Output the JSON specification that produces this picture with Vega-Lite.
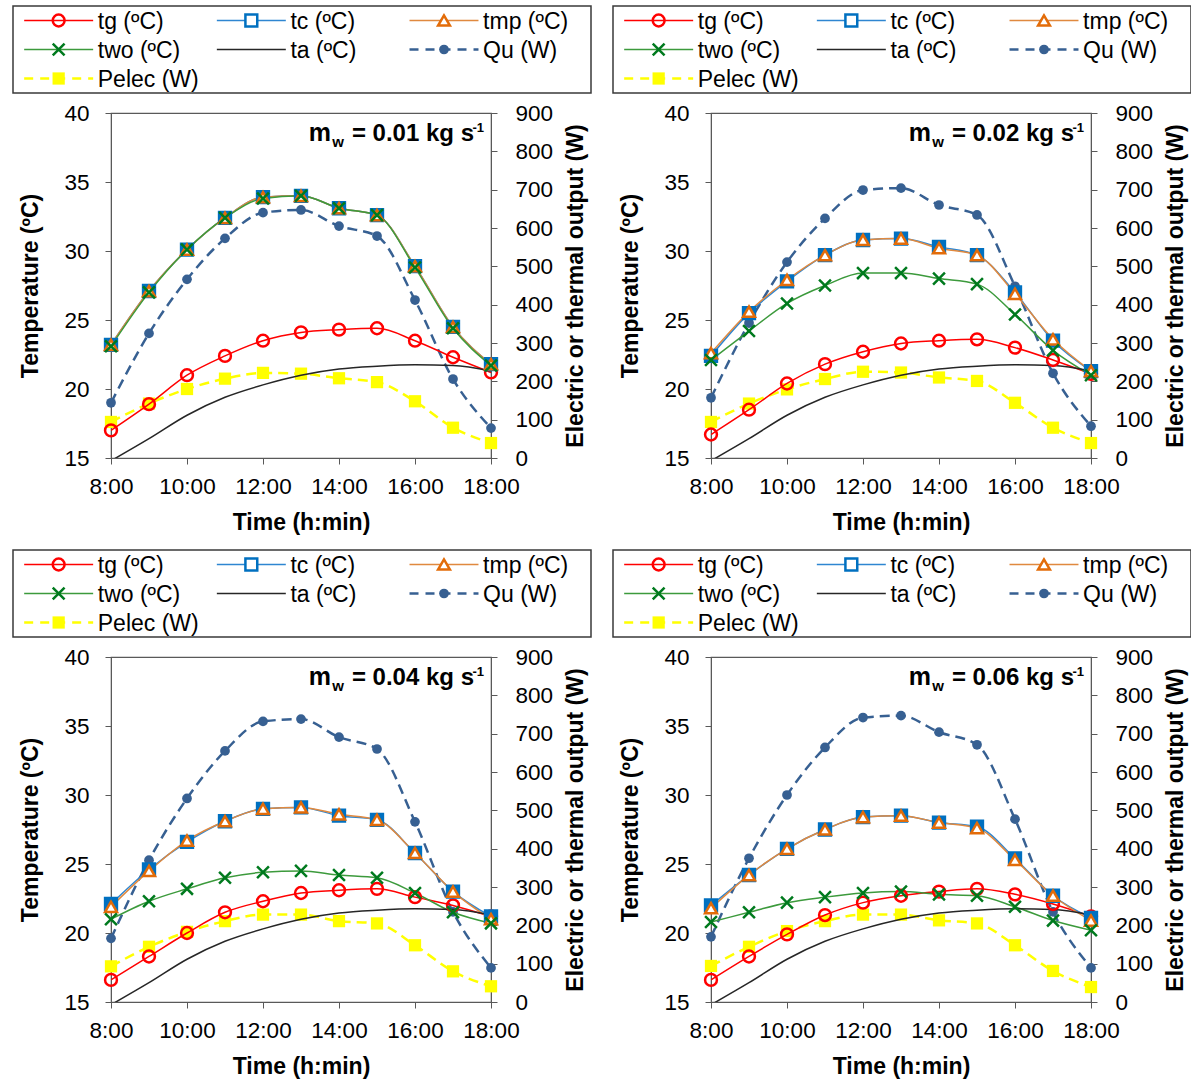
{
  "$schema": "https://vega.github.io/schema/vega-lite/v6.json",
  "background": "white",
  "padding": {"left": 12, "top": 5, "right": 0, "bottom": 0},
  "config": {
    "font": "Liberation Sans",
    "axis": {"labelFont": "Liberation Sans", "titleFont": "Liberation Sans", "labelFontSize": 22.5, "titleFontSize": 23, "titleFontWeight": "bold", "labelColor": "#000000", "titleColor": "#000000", "domainColor": "#595959", "tickColor": "#595959", "grid": false},
    "text": {"font": "Liberation Sans", "color": "#000000"}
  },
  "datasets": {
    "legend": [
      {"series": "tg", "label": "tg (ºC)"},
      {"series": "tc", "label": "tc (ºC)"},
      {"series": "tmp", "label": "tmp (ºC)"},
      {"series": "two", "label": "two (ºC)"},
      {"series": "ta", "label": "ta (ºC)"},
      {"series": "Qu", "label": "Qu (W)"},
      {"series": "Pelec", "label": "Pelec (W)"}
    ],
    "obs": [
      {"mw": "0.01", "series": "tg", "hour": 8, "value": 17.0},
      {"mw": "0.01", "series": "tg", "hour": 9, "value": 18.9},
      {"mw": "0.01", "series": "tg", "hour": 10, "value": 21.0},
      {"mw": "0.01", "series": "tg", "hour": 11, "value": 22.4},
      {"mw": "0.01", "series": "tg", "hour": 12, "value": 23.5},
      {"mw": "0.01", "series": "tg", "hour": 13, "value": 24.1},
      {"mw": "0.01", "series": "tg", "hour": 14, "value": 24.3},
      {"mw": "0.01", "series": "tg", "hour": 15, "value": 24.4},
      {"mw": "0.01", "series": "tg", "hour": 16, "value": 23.5},
      {"mw": "0.01", "series": "tg", "hour": 17, "value": 22.3},
      {"mw": "0.01", "series": "tg", "hour": 18, "value": 21.2},
      {"mw": "0.01", "series": "tc", "hour": 8, "value": 23.2},
      {"mw": "0.01", "series": "tc", "hour": 9, "value": 27.1},
      {"mw": "0.01", "series": "tc", "hour": 10, "value": 30.1},
      {"mw": "0.01", "series": "tc", "hour": 11, "value": 32.4},
      {"mw": "0.01", "series": "tc", "hour": 12, "value": 33.9},
      {"mw": "0.01", "series": "tc", "hour": 13, "value": 34.0},
      {"mw": "0.01", "series": "tc", "hour": 14, "value": 33.1},
      {"mw": "0.01", "series": "tc", "hour": 15, "value": 32.6},
      {"mw": "0.01", "series": "tc", "hour": 16, "value": 28.9},
      {"mw": "0.01", "series": "tc", "hour": 17, "value": 24.5},
      {"mw": "0.01", "series": "tc", "hour": 18, "value": 21.8},
      {"mw": "0.01", "series": "tmp", "hour": 8, "value": 23.2},
      {"mw": "0.01", "series": "tmp", "hour": 9, "value": 27.1},
      {"mw": "0.01", "series": "tmp", "hour": 10, "value": 30.1},
      {"mw": "0.01", "series": "tmp", "hour": 11, "value": 32.4},
      {"mw": "0.01", "series": "tmp", "hour": 12, "value": 33.9},
      {"mw": "0.01", "series": "tmp", "hour": 13, "value": 34.0},
      {"mw": "0.01", "series": "tmp", "hour": 14, "value": 33.1},
      {"mw": "0.01", "series": "tmp", "hour": 15, "value": 32.6},
      {"mw": "0.01", "series": "tmp", "hour": 16, "value": 28.9},
      {"mw": "0.01", "series": "tmp", "hour": 17, "value": 24.5},
      {"mw": "0.01", "series": "tmp", "hour": 18, "value": 21.8},
      {"mw": "0.01", "series": "two", "hour": 8, "value": 23.1},
      {"mw": "0.01", "series": "two", "hour": 9, "value": 27.0},
      {"mw": "0.01", "series": "two", "hour": 10, "value": 30.1},
      {"mw": "0.01", "series": "two", "hour": 11, "value": 32.4},
      {"mw": "0.01", "series": "two", "hour": 12, "value": 33.8},
      {"mw": "0.01", "series": "two", "hour": 13, "value": 34.0},
      {"mw": "0.01", "series": "two", "hour": 14, "value": 33.1},
      {"mw": "0.01", "series": "two", "hour": 15, "value": 32.6},
      {"mw": "0.01", "series": "two", "hour": 16, "value": 28.8},
      {"mw": "0.01", "series": "two", "hour": 17, "value": 24.4},
      {"mw": "0.01", "series": "two", "hour": 18, "value": 21.7},
      {"mw": "0.01", "series": "Qu", "hour": 8, "value": 144},
      {"mw": "0.01", "series": "Qu", "hour": 9, "value": 325},
      {"mw": "0.01", "series": "Qu", "hour": 10, "value": 466},
      {"mw": "0.01", "series": "Qu", "hour": 11, "value": 573},
      {"mw": "0.01", "series": "Qu", "hour": 12, "value": 640},
      {"mw": "0.01", "series": "Qu", "hour": 13, "value": 647},
      {"mw": "0.01", "series": "Qu", "hour": 14, "value": 605},
      {"mw": "0.01", "series": "Qu", "hour": 15, "value": 579},
      {"mw": "0.01", "series": "Qu", "hour": 16, "value": 412},
      {"mw": "0.01", "series": "Qu", "hour": 17, "value": 206},
      {"mw": "0.01", "series": "Qu", "hour": 18, "value": 78},
      {"mw": "0.01", "series": "Pelec", "hour": 8, "value": 94},
      {"mw": "0.01", "series": "Pelec", "hour": 9, "value": 142},
      {"mw": "0.01", "series": "Pelec", "hour": 10, "value": 180},
      {"mw": "0.01", "series": "Pelec", "hour": 11, "value": 207},
      {"mw": "0.01", "series": "Pelec", "hour": 12, "value": 222},
      {"mw": "0.01", "series": "Pelec", "hour": 13, "value": 220},
      {"mw": "0.01", "series": "Pelec", "hour": 14, "value": 208},
      {"mw": "0.01", "series": "Pelec", "hour": 15, "value": 198},
      {"mw": "0.01", "series": "Pelec", "hour": 16, "value": 148},
      {"mw": "0.01", "series": "Pelec", "hour": 17, "value": 79},
      {"mw": "0.01", "series": "Pelec", "hour": 18, "value": 39},
      {"mw": "0.02", "series": "tg", "hour": 8, "value": 16.7},
      {"mw": "0.02", "series": "tg", "hour": 9, "value": 18.5},
      {"mw": "0.02", "series": "tg", "hour": 10, "value": 20.4},
      {"mw": "0.02", "series": "tg", "hour": 11, "value": 21.8},
      {"mw": "0.02", "series": "tg", "hour": 12, "value": 22.7},
      {"mw": "0.02", "series": "tg", "hour": 13, "value": 23.3},
      {"mw": "0.02", "series": "tg", "hour": 14, "value": 23.5},
      {"mw": "0.02", "series": "tg", "hour": 15, "value": 23.6},
      {"mw": "0.02", "series": "tg", "hour": 16, "value": 23.0},
      {"mw": "0.02", "series": "tg", "hour": 17, "value": 22.1},
      {"mw": "0.02", "series": "tg", "hour": 18, "value": 21.1},
      {"mw": "0.02", "series": "tc", "hour": 8, "value": 22.4},
      {"mw": "0.02", "series": "tc", "hour": 9, "value": 25.5},
      {"mw": "0.02", "series": "tc", "hour": 10, "value": 27.8},
      {"mw": "0.02", "series": "tc", "hour": 11, "value": 29.7},
      {"mw": "0.02", "series": "tc", "hour": 12, "value": 30.8},
      {"mw": "0.02", "series": "tc", "hour": 13, "value": 30.9},
      {"mw": "0.02", "series": "tc", "hour": 14, "value": 30.3},
      {"mw": "0.02", "series": "tc", "hour": 15, "value": 29.7},
      {"mw": "0.02", "series": "tc", "hour": 16, "value": 27.0},
      {"mw": "0.02", "series": "tc", "hour": 17, "value": 23.5},
      {"mw": "0.02", "series": "tc", "hour": 18, "value": 21.3},
      {"mw": "0.02", "series": "tmp", "hour": 8, "value": 22.6},
      {"mw": "0.02", "series": "tmp", "hour": 9, "value": 25.6},
      {"mw": "0.02", "series": "tmp", "hour": 10, "value": 27.9},
      {"mw": "0.02", "series": "tmp", "hour": 11, "value": 29.7},
      {"mw": "0.02", "series": "tmp", "hour": 12, "value": 30.8},
      {"mw": "0.02", "series": "tmp", "hour": 13, "value": 30.9},
      {"mw": "0.02", "series": "tmp", "hour": 14, "value": 30.2},
      {"mw": "0.02", "series": "tmp", "hour": 15, "value": 29.7},
      {"mw": "0.02", "series": "tmp", "hour": 16, "value": 26.9},
      {"mw": "0.02", "series": "tmp", "hour": 17, "value": 23.6},
      {"mw": "0.02", "series": "tmp", "hour": 18, "value": 21.3},
      {"mw": "0.02", "series": "two", "hour": 8, "value": 22.1},
      {"mw": "0.02", "series": "two", "hour": 9, "value": 24.2},
      {"mw": "0.02", "series": "two", "hour": 10, "value": 26.2},
      {"mw": "0.02", "series": "two", "hour": 11, "value": 27.5},
      {"mw": "0.02", "series": "two", "hour": 12, "value": 28.4},
      {"mw": "0.02", "series": "two", "hour": 13, "value": 28.4},
      {"mw": "0.02", "series": "two", "hour": 14, "value": 28.0},
      {"mw": "0.02", "series": "two", "hour": 15, "value": 27.6},
      {"mw": "0.02", "series": "two", "hour": 16, "value": 25.4},
      {"mw": "0.02", "series": "two", "hour": 17, "value": 22.8},
      {"mw": "0.02", "series": "two", "hour": 18, "value": 21.0},
      {"mw": "0.02", "series": "Qu", "hour": 8, "value": 157},
      {"mw": "0.02", "series": "Qu", "hour": 9, "value": 352},
      {"mw": "0.02", "series": "Qu", "hour": 10, "value": 511},
      {"mw": "0.02", "series": "Qu", "hour": 11, "value": 625},
      {"mw": "0.02", "series": "Qu", "hour": 12, "value": 699},
      {"mw": "0.02", "series": "Qu", "hour": 13, "value": 704},
      {"mw": "0.02", "series": "Qu", "hour": 14, "value": 660},
      {"mw": "0.02", "series": "Qu", "hour": 15, "value": 634},
      {"mw": "0.02", "series": "Qu", "hour": 16, "value": 448},
      {"mw": "0.02", "series": "Qu", "hour": 17, "value": 221},
      {"mw": "0.02", "series": "Qu", "hour": 18, "value": 83},
      {"mw": "0.02", "series": "Pelec", "hour": 8, "value": 94},
      {"mw": "0.02", "series": "Pelec", "hour": 9, "value": 142},
      {"mw": "0.02", "series": "Pelec", "hour": 10, "value": 179},
      {"mw": "0.02", "series": "Pelec", "hour": 11, "value": 206},
      {"mw": "0.02", "series": "Pelec", "hour": 12, "value": 225},
      {"mw": "0.02", "series": "Pelec", "hour": 13, "value": 223},
      {"mw": "0.02", "series": "Pelec", "hour": 14, "value": 210},
      {"mw": "0.02", "series": "Pelec", "hour": 15, "value": 201},
      {"mw": "0.02", "series": "Pelec", "hour": 16, "value": 144},
      {"mw": "0.02", "series": "Pelec", "hour": 17, "value": 79},
      {"mw": "0.02", "series": "Pelec", "hour": 18, "value": 39},
      {"mw": "0.04", "series": "tg", "hour": 8, "value": 16.6},
      {"mw": "0.04", "series": "tg", "hour": 9, "value": 18.3},
      {"mw": "0.04", "series": "tg", "hour": 10, "value": 20.0},
      {"mw": "0.04", "series": "tg", "hour": 11, "value": 21.5},
      {"mw": "0.04", "series": "tg", "hour": 12, "value": 22.3},
      {"mw": "0.04", "series": "tg", "hour": 13, "value": 22.9},
      {"mw": "0.04", "series": "tg", "hour": 14, "value": 23.1},
      {"mw": "0.04", "series": "tg", "hour": 15, "value": 23.2},
      {"mw": "0.04", "series": "tg", "hour": 16, "value": 22.6},
      {"mw": "0.04", "series": "tg", "hour": 17, "value": 22.0},
      {"mw": "0.04", "series": "tg", "hour": 18, "value": 21.2},
      {"mw": "0.04", "series": "tc", "hour": 8, "value": 22.1},
      {"mw": "0.04", "series": "tc", "hour": 9, "value": 24.6},
      {"mw": "0.04", "series": "tc", "hour": 10, "value": 26.6},
      {"mw": "0.04", "series": "tc", "hour": 11, "value": 28.1},
      {"mw": "0.04", "series": "tc", "hour": 12, "value": 29.0},
      {"mw": "0.04", "series": "tc", "hour": 13, "value": 29.1},
      {"mw": "0.04", "series": "tc", "hour": 14, "value": 28.5},
      {"mw": "0.04", "series": "tc", "hour": 15, "value": 28.2},
      {"mw": "0.04", "series": "tc", "hour": 16, "value": 25.8},
      {"mw": "0.04", "series": "tc", "hour": 17, "value": 23.0},
      {"mw": "0.04", "series": "tc", "hour": 18, "value": 21.2},
      {"mw": "0.04", "series": "tmp", "hour": 8, "value": 21.9},
      {"mw": "0.04", "series": "tmp", "hour": 9, "value": 24.5},
      {"mw": "0.04", "series": "tmp", "hour": 10, "value": 26.7},
      {"mw": "0.04", "series": "tmp", "hour": 11, "value": 28.1},
      {"mw": "0.04", "series": "tmp", "hour": 12, "value": 29.0},
      {"mw": "0.04", "series": "tmp", "hour": 13, "value": 29.1},
      {"mw": "0.04", "series": "tmp", "hour": 14, "value": 28.6},
      {"mw": "0.04", "series": "tmp", "hour": 15, "value": 28.2},
      {"mw": "0.04", "series": "tmp", "hour": 16, "value": 25.8},
      {"mw": "0.04", "series": "tmp", "hour": 17, "value": 23.0},
      {"mw": "0.04", "series": "tmp", "hour": 18, "value": 21.0},
      {"mw": "0.04", "series": "two", "hour": 8, "value": 21.0},
      {"mw": "0.04", "series": "two", "hour": 9, "value": 22.3},
      {"mw": "0.04", "series": "two", "hour": 10, "value": 23.2},
      {"mw": "0.04", "series": "two", "hour": 11, "value": 24.0},
      {"mw": "0.04", "series": "two", "hour": 12, "value": 24.4},
      {"mw": "0.04", "series": "two", "hour": 13, "value": 24.5},
      {"mw": "0.04", "series": "two", "hour": 14, "value": 24.2},
      {"mw": "0.04", "series": "two", "hour": 15, "value": 24.0},
      {"mw": "0.04", "series": "two", "hour": 16, "value": 22.9},
      {"mw": "0.04", "series": "two", "hour": 17, "value": 21.5},
      {"mw": "0.04", "series": "two", "hour": 18, "value": 20.7},
      {"mw": "0.04", "series": "Qu", "hour": 8, "value": 166},
      {"mw": "0.04", "series": "Qu", "hour": 9, "value": 370},
      {"mw": "0.04", "series": "Qu", "hour": 10, "value": 531},
      {"mw": "0.04", "series": "Qu", "hour": 11, "value": 655},
      {"mw": "0.04", "series": "Qu", "hour": 12, "value": 732},
      {"mw": "0.04", "series": "Qu", "hour": 13, "value": 738},
      {"mw": "0.04", "series": "Qu", "hour": 14, "value": 691},
      {"mw": "0.04", "series": "Qu", "hour": 15, "value": 660},
      {"mw": "0.04", "series": "Qu", "hour": 16, "value": 470},
      {"mw": "0.04", "series": "Qu", "hour": 17, "value": 235},
      {"mw": "0.04", "series": "Qu", "hour": 18, "value": 89},
      {"mw": "0.04", "series": "Pelec", "hour": 8, "value": 93},
      {"mw": "0.04", "series": "Pelec", "hour": 9, "value": 144},
      {"mw": "0.04", "series": "Pelec", "hour": 10, "value": 183},
      {"mw": "0.04", "series": "Pelec", "hour": 11, "value": 211},
      {"mw": "0.04", "series": "Pelec", "hour": 12, "value": 228},
      {"mw": "0.04", "series": "Pelec", "hour": 13, "value": 228},
      {"mw": "0.04", "series": "Pelec", "hour": 14, "value": 211},
      {"mw": "0.04", "series": "Pelec", "hour": 15, "value": 205},
      {"mw": "0.04", "series": "Pelec", "hour": 16, "value": 148},
      {"mw": "0.04", "series": "Pelec", "hour": 17, "value": 80},
      {"mw": "0.04", "series": "Pelec", "hour": 18, "value": 41},
      {"mw": "0.06", "series": "tg", "hour": 8, "value": 16.6},
      {"mw": "0.06", "series": "tg", "hour": 9, "value": 18.3},
      {"mw": "0.06", "series": "tg", "hour": 10, "value": 19.9},
      {"mw": "0.06", "series": "tg", "hour": 11, "value": 21.3},
      {"mw": "0.06", "series": "tg", "hour": 12, "value": 22.2},
      {"mw": "0.06", "series": "tg", "hour": 13, "value": 22.7},
      {"mw": "0.06", "series": "tg", "hour": 14, "value": 23.0},
      {"mw": "0.06", "series": "tg", "hour": 15, "value": 23.2},
      {"mw": "0.06", "series": "tg", "hour": 16, "value": 22.8},
      {"mw": "0.06", "series": "tg", "hour": 17, "value": 22.1},
      {"mw": "0.06", "series": "tg", "hour": 18, "value": 21.2},
      {"mw": "0.06", "series": "tc", "hour": 8, "value": 22.0},
      {"mw": "0.06", "series": "tc", "hour": 9, "value": 24.2},
      {"mw": "0.06", "series": "tc", "hour": 10, "value": 26.1},
      {"mw": "0.06", "series": "tc", "hour": 11, "value": 27.5},
      {"mw": "0.06", "series": "tc", "hour": 12, "value": 28.4},
      {"mw": "0.06", "series": "tc", "hour": 13, "value": 28.5},
      {"mw": "0.06", "series": "tc", "hour": 14, "value": 28.0},
      {"mw": "0.06", "series": "tc", "hour": 15, "value": 27.7},
      {"mw": "0.06", "series": "tc", "hour": 16, "value": 25.4},
      {"mw": "0.06", "series": "tc", "hour": 17, "value": 22.7},
      {"mw": "0.06", "series": "tc", "hour": 18, "value": 21.1},
      {"mw": "0.06", "series": "tmp", "hour": 8, "value": 21.8},
      {"mw": "0.06", "series": "tmp", "hour": 9, "value": 24.2},
      {"mw": "0.06", "series": "tmp", "hour": 10, "value": 26.1},
      {"mw": "0.06", "series": "tmp", "hour": 11, "value": 27.5},
      {"mw": "0.06", "series": "tmp", "hour": 12, "value": 28.4},
      {"mw": "0.06", "series": "tmp", "hour": 13, "value": 28.5},
      {"mw": "0.06", "series": "tmp", "hour": 14, "value": 28.0},
      {"mw": "0.06", "series": "tmp", "hour": 15, "value": 27.6},
      {"mw": "0.06", "series": "tmp", "hour": 16, "value": 25.3},
      {"mw": "0.06", "series": "tmp", "hour": 17, "value": 22.7},
      {"mw": "0.06", "series": "tmp", "hour": 18, "value": 20.9},
      {"mw": "0.06", "series": "two", "hour": 8, "value": 20.8},
      {"mw": "0.06", "series": "two", "hour": 9, "value": 21.5},
      {"mw": "0.06", "series": "two", "hour": 10, "value": 22.2},
      {"mw": "0.06", "series": "two", "hour": 11, "value": 22.6},
      {"mw": "0.06", "series": "two", "hour": 12, "value": 22.9},
      {"mw": "0.06", "series": "two", "hour": 13, "value": 23.0},
      {"mw": "0.06", "series": "two", "hour": 14, "value": 22.8},
      {"mw": "0.06", "series": "two", "hour": 15, "value": 22.7},
      {"mw": "0.06", "series": "two", "hour": 16, "value": 21.9},
      {"mw": "0.06", "series": "two", "hour": 17, "value": 20.9},
      {"mw": "0.06", "series": "two", "hour": 18, "value": 20.2},
      {"mw": "0.06", "series": "Qu", "hour": 8, "value": 170},
      {"mw": "0.06", "series": "Qu", "hour": 9, "value": 375},
      {"mw": "0.06", "series": "Qu", "hour": 10, "value": 540},
      {"mw": "0.06", "series": "Qu", "hour": 11, "value": 664},
      {"mw": "0.06", "series": "Qu", "hour": 12, "value": 742},
      {"mw": "0.06", "series": "Qu", "hour": 13, "value": 747},
      {"mw": "0.06", "series": "Qu", "hour": 14, "value": 704},
      {"mw": "0.06", "series": "Qu", "hour": 15, "value": 671},
      {"mw": "0.06", "series": "Qu", "hour": 16, "value": 477},
      {"mw": "0.06", "series": "Qu", "hour": 17, "value": 235},
      {"mw": "0.06", "series": "Qu", "hour": 18, "value": 89},
      {"mw": "0.06", "series": "Pelec", "hour": 8, "value": 94},
      {"mw": "0.06", "series": "Pelec", "hour": 9, "value": 144},
      {"mw": "0.06", "series": "Pelec", "hour": 10, "value": 185},
      {"mw": "0.06", "series": "Pelec", "hour": 11, "value": 211},
      {"mw": "0.06", "series": "Pelec", "hour": 12, "value": 228},
      {"mw": "0.06", "series": "Pelec", "hour": 13, "value": 228},
      {"mw": "0.06", "series": "Pelec", "hour": 14, "value": 213},
      {"mw": "0.06", "series": "Pelec", "hour": 15, "value": 205},
      {"mw": "0.06", "series": "Pelec", "hour": 16, "value": 148},
      {"mw": "0.06", "series": "Pelec", "hour": 17, "value": 81},
      {"mw": "0.06", "series": "Pelec", "hour": 18, "value": 39},
      {"mw": "all", "series": "ta", "hour": 8, "value": 14.8},
      {"mw": "all", "series": "ta", "hour": 9, "value": 16.4},
      {"mw": "all", "series": "ta", "hour": 10, "value": 18.1},
      {"mw": "all", "series": "ta", "hour": 11, "value": 19.4},
      {"mw": "all", "series": "ta", "hour": 12, "value": 20.3},
      {"mw": "all", "series": "ta", "hour": 13, "value": 21.0},
      {"mw": "all", "series": "ta", "hour": 14, "value": 21.45},
      {"mw": "all", "series": "ta", "hour": 15, "value": 21.65},
      {"mw": "all", "series": "ta", "hour": 16, "value": 21.75},
      {"mw": "all", "series": "ta", "hour": 17, "value": 21.7},
      {"mw": "all", "series": "ta", "hour": 18, "value": 21.3}
    ]
  },
  "spacing": 13,
  "vconcat": [
    {
      "spacing": 20,
      "hconcat": [
        {
          "spacing": 7,
          "vconcat": [
            {
              "width": 578, "height": 87,
              "view": {"stroke": "#3A3A3A", "strokeWidth": 1.5},
              "data": {"name": "legend"},
              "transform": [
                {"window": [{"op": "row_number", "as": "rn"}]},
                {"calculate": "(datum.rn - 1) % 3", "as": "col"},
                {"calculate": "floor((datum.rn - 1) / 3)", "as": "row"},
                {"calculate": "datum.col + 0.058", "as": "x0"},
                {"calculate": "datum.col + 0.416", "as": "x1"},
                {"calculate": "datum.col + 0.237", "as": "xm"},
                {"calculate": "datum.col + 0.44", "as": "xt"}
              ],
              "encoding": {"y": {"field": "row", "type": "ordinal", "scale": {"type": "point", "padding": 0.5}, "axis": null}},
              "layer": [
                {"transform": [{"filter": "datum.series != 'Qu' && datum.series != 'Pelec'"}], "mark": {"type": "rule", "strokeWidth": 1.5}, "encoding": {"x": {"field": "x0", "type": "quantitative", "scale": {"domain": [0, 3], "nice": false, "zero": false}, "axis": null}, "x2": {"field": "x1"}, "color": {"field": "series", "type": "nominal", "scale": {"domain": ["tg", "tc", "tmp", "two", "ta", "Qu", "Pelec"], "range": ["#FF0000", "#2E86D1", "#E0893F", "#3C9A3C", "#262626", "#376092", "#FFFF00"]}, "legend": null}}},
                {"transform": [{"filter": "datum.series == 'Qu' || datum.series == 'Pelec'"}], "mark": {"type": "rule", "strokeWidth": 2.5, "strokeDash": [9, 7]}, "encoding": {"x": {"field": "x0", "type": "quantitative", "scale": {"domain": [0, 3], "nice": false, "zero": false}, "axis": null}, "x2": {"field": "x1"}, "color": {"field": "series", "type": "nominal", "scale": {"domain": ["tg", "tc", "tmp", "two", "ta", "Qu", "Pelec"], "range": ["#FF0000", "#2E86D1", "#E0893F", "#3C9A3C", "#262626", "#376092", "#FFFF00"]}, "legend": null}}},
                {"transform": [{"filter": "datum.series != 'Qu' && datum.series != 'Pelec' && datum.series != 'ta'"}], "mark": {"type": "point", "size": 140, "strokeWidth": 2.5, "opacity": 1}, "encoding": {"x": {"field": "xm", "type": "quantitative", "scale": {"domain": [0, 3], "nice": false, "zero": false}, "axis": null}, "shape": {"field": "series", "type": "nominal", "scale": {"domain": ["tg", "tc", "tmp", "two", "ta", "Qu", "Pelec"], "range": ["circle", "square", "triangle-up", "M-1,-1L1,1M1,-1L-1,1", "circle", "circle", "square"]}, "legend": null}, "stroke": {"field": "series", "type": "nominal", "scale": {"domain": ["tg", "tc", "tmp", "two", "ta", "Qu", "Pelec"], "range": ["#FF0000", "#0070C0", "#E36C09", "#007A1E", "#000000", "#376092", "#FFFF00"]}, "legend": null}, "fill": {"condition": {"test": "datum.series == 'tc' || datum.series == 'tmp'", "value": "#FFFFFF"}, "field": "series", "type": "nominal", "scale": {"domain": ["tg", "tc", "tmp", "two", "ta", "Qu", "Pelec"], "range": ["transparent", "#0070C0", "#FFFFFF", "transparent", "transparent", "#376092", "#FFFF00"]}, "legend": null}}},
                {"transform": [{"filter": "datum.series == 'Qu'"}], "mark": {"type": "point", "shape": "circle", "size": 95, "strokeWidth": 1, "opacity": 1, "filled": true, "color": "#376092"}, "encoding": {"x": {"field": "xm", "type": "quantitative", "scale": {"domain": [0, 3], "nice": false, "zero": false}, "axis": null}}},
                {"transform": [{"filter": "datum.series == 'Pelec'"}], "mark": {"type": "point", "shape": "square", "size": 150, "strokeWidth": 1, "opacity": 1, "filled": true, "color": "#FFFF00"}, "encoding": {"x": {"field": "xm", "type": "quantitative", "scale": {"domain": [0, 3], "nice": false, "zero": false}, "axis": null}}},
                {"mark": {"type": "text", "align": "left", "baseline": "middle", "fontSize": 23, "dy": 1}, "encoding": {"x": {"field": "xt", "type": "quantitative", "scale": {"domain": [0, 3], "nice": false, "zero": false}, "axis": null}, "text": {"field": "label"}}}
              ]
            },
            {
              "spacing": 5,
              "hconcat": [
                {"width": 1, "height": 1, "view": {"stroke": null}, "data": {"values": []}, "mark": "point"},
                {
                  "width": 380, "height": 345,
                  "view": {"stroke": "#595959", "strokeWidth": 1.2},
                  "encoding": {"x": {"field": "hour", "type": "quantitative", "scale": {"domain": [8, 18], "nice": false, "zero": false}, "axis": {"title": "Time (h:min)", "values": [8, 10, 12, 14, 16, 18], "labelExpr": "datum.value + ':00'", "labelFlush": false, "labelOverlap": false, "tickSize": 6, "labelPadding": 11, "titlePadding": 14}}},
                  "layer": [
                    {
                      "encoding": {"y": {"field": "value", "type": "quantitative", "scale": {"domain": [0, 900], "nice": false, "zero": false}, "axis": {"orient": "right", "title": "Electric or thermal output (W)", "values": [0, 100, 200, 300, 400, 500, 600, 700, 800, 900], "labelFlush": false, "labelOverlap": false, "tickSize": 6, "labelPadding": 18, "titlePadding": 12, "titleAngle": 270, "titleBaseline": "top"}}},
                      "layer": [
                        {"data": {"name": "obs"}, "transform": [{"filter": "datum.mw == '0.01' && (datum.series == 'Qu' || datum.series == 'Pelec')"}], "mark": {"type": "line", "interpolate": "monotone", "strokeWidth": 2.5, "strokeDash": [10, 6]}, "encoding": {"color": {"field": "series", "type": "nominal", "scale": {"domain": ["tg", "tc", "tmp", "two", "ta", "Qu", "Pelec"], "range": ["#FF0000", "#2E86D1", "#E0893F", "#3C9A3C", "#262626", "#376092", "#FFFF00"]}, "legend": null}}},
                        {"data": {"name": "obs"}, "transform": [{"filter": "datum.mw == '0.01' && datum.series == 'Qu'"}], "mark": {"type": "point", "shape": "circle", "size": 95, "strokeWidth": 1, "opacity": 1, "filled": true, "color": "#376092"}},
                        {"data": {"name": "obs"}, "transform": [{"filter": "datum.mw == '0.01' && datum.series == 'Pelec'"}], "mark": {"type": "point", "shape": "square", "size": 150, "strokeWidth": 1, "opacity": 1, "filled": true, "color": "#FFFF00"}}
                      ]
                    },
                    {
                      "encoding": {"y": {"field": "value", "type": "quantitative", "scale": {"domain": [15, 40], "nice": false, "zero": false}, "axis": {"orient": "left", "title": "Temperature (ºC)", "values": [15, 20, 25, 30, 35, 40], "labelFlush": false, "labelOverlap": false, "tickSize": 6, "labelPadding": 16, "titlePadding": 21}}},
                      "layer": [
                        {"data": {"name": "obs"}, "transform": [{"filter": "(datum.mw == '0.01' || datum.mw == 'all') && datum.series != 'Qu' && datum.series != 'Pelec'"}], "mark": {"type": "line", "interpolate": "monotone", "strokeWidth": 1.5, "clip": true}, "encoding": {"color": {"field": "series", "type": "nominal", "scale": {"domain": ["tg", "tc", "tmp", "two", "ta", "Qu", "Pelec"], "range": ["#FF0000", "#2E86D1", "#E0893F", "#3C9A3C", "#262626", "#376092", "#FFFF00"]}, "legend": null}}},
                        {"data": {"name": "obs"}, "transform": [{"filter": "datum.mw == '0.01' && datum.series != 'Qu' && datum.series != 'Pelec'"}], "mark": {"type": "point", "size": 140, "strokeWidth": 2.5, "opacity": 1}, "encoding": {"shape": {"field": "series", "type": "nominal", "scale": {"domain": ["tg", "tc", "tmp", "two", "ta", "Qu", "Pelec"], "range": ["circle", "square", "triangle-up", "M-1,-1L1,1M1,-1L-1,1", "circle", "circle", "square"]}, "legend": null}, "stroke": {"field": "series", "type": "nominal", "scale": {"domain": ["tg", "tc", "tmp", "two", "ta", "Qu", "Pelec"], "range": ["#FF0000", "#0070C0", "#E36C09", "#007A1E", "#000000", "#376092", "#FFFF00"]}, "legend": null}, "fill": {"field": "series", "type": "nominal", "scale": {"domain": ["tg", "tc", "tmp", "two", "ta", "Qu", "Pelec"], "range": ["transparent", "#0070C0", "#FFFFFF", "transparent", "transparent", "#376092", "#FFFF00"]}, "legend": null}}},
                        {"data": {"name": "obs"}, "transform": [{"filter": "datum.mw == '0.01' && datum.series == 'tg' && datum.hour == 18"}], "mark": {"type": "text", "text": "m", "align": "right", "baseline": "alphabetic", "fontSize": 25, "fontWeight": "bold", "dx": -160, "color": "#000000"}, "encoding": {"x": {"field": "hour", "type": "quantitative"}, "y": {"datum": 38, "type": "quantitative"}}},
                        {"data": {"name": "obs"}, "transform": [{"filter": "datum.mw == '0.01' && datum.series == 'tg' && datum.hour == 18"}], "mark": {"type": "text", "text": "w", "align": "right", "baseline": "alphabetic", "fontSize": 15, "fontWeight": "bold", "dx": -147, "dy": 6, "color": "#000000"}, "encoding": {"x": {"field": "hour", "type": "quantitative"}, "y": {"datum": 38, "type": "quantitative"}}},
                        {"data": {"name": "obs"}, "transform": [{"filter": "datum.mw == '0.01' && datum.series == 'tg' && datum.hour == 18"}, {"calculate": "'= ' + datum.mw + ' kg s'", "as": "note"}], "mark": {"type": "text", "align": "right", "baseline": "alphabetic", "fontSize": 24, "fontWeight": "bold", "dx": -17, "color": "#000000"}, "encoding": {"x": {"field": "hour", "type": "quantitative"}, "y": {"datum": 38, "type": "quantitative"}, "text": {"field": "note"}}},
                        {"data": {"name": "obs"}, "transform": [{"filter": "datum.mw == '0.01' && datum.series == 'tg' && datum.hour == 18"}], "mark": {"type": "text", "text": "-1", "align": "right", "baseline": "alphabetic", "fontSize": 13, "fontWeight": "bold", "dx": -7, "dy": -9, "color": "#000000"}, "encoding": {"x": {"field": "hour", "type": "quantitative"}, "y": {"datum": 38, "type": "quantitative"}}}
                      ]
                    }
                  ],
                  "resolve": {"scale": {"y": "independent"}}
                }
              ]
            }
          ]
        },
        {
          "spacing": 7,
          "vconcat": [
            {
              "width": 578, "height": 87,
              "view": {"stroke": "#3A3A3A", "strokeWidth": 1.5},
              "data": {"name": "legend"},
              "transform": [
                {"window": [{"op": "row_number", "as": "rn"}]},
                {"calculate": "(datum.rn - 1) % 3", "as": "col"},
                {"calculate": "floor((datum.rn - 1) / 3)", "as": "row"},
                {"calculate": "datum.col + 0.058", "as": "x0"},
                {"calculate": "datum.col + 0.416", "as": "x1"},
                {"calculate": "datum.col + 0.237", "as": "xm"},
                {"calculate": "datum.col + 0.44", "as": "xt"}
              ],
              "encoding": {"y": {"field": "row", "type": "ordinal", "scale": {"type": "point", "padding": 0.5}, "axis": null}},
              "layer": [
                {"transform": [{"filter": "datum.series != 'Qu' && datum.series != 'Pelec'"}], "mark": {"type": "rule", "strokeWidth": 1.5}, "encoding": {"x": {"field": "x0", "type": "quantitative", "scale": {"domain": [0, 3], "nice": false, "zero": false}, "axis": null}, "x2": {"field": "x1"}, "color": {"field": "series", "type": "nominal", "scale": {"domain": ["tg", "tc", "tmp", "two", "ta", "Qu", "Pelec"], "range": ["#FF0000", "#2E86D1", "#E0893F", "#3C9A3C", "#262626", "#376092", "#FFFF00"]}, "legend": null}}},
                {"transform": [{"filter": "datum.series == 'Qu' || datum.series == 'Pelec'"}], "mark": {"type": "rule", "strokeWidth": 2.5, "strokeDash": [9, 7]}, "encoding": {"x": {"field": "x0", "type": "quantitative", "scale": {"domain": [0, 3], "nice": false, "zero": false}, "axis": null}, "x2": {"field": "x1"}, "color": {"field": "series", "type": "nominal", "scale": {"domain": ["tg", "tc", "tmp", "two", "ta", "Qu", "Pelec"], "range": ["#FF0000", "#2E86D1", "#E0893F", "#3C9A3C", "#262626", "#376092", "#FFFF00"]}, "legend": null}}},
                {"transform": [{"filter": "datum.series != 'Qu' && datum.series != 'Pelec' && datum.series != 'ta'"}], "mark": {"type": "point", "size": 140, "strokeWidth": 2.5, "opacity": 1}, "encoding": {"x": {"field": "xm", "type": "quantitative", "scale": {"domain": [0, 3], "nice": false, "zero": false}, "axis": null}, "shape": {"field": "series", "type": "nominal", "scale": {"domain": ["tg", "tc", "tmp", "two", "ta", "Qu", "Pelec"], "range": ["circle", "square", "triangle-up", "M-1,-1L1,1M1,-1L-1,1", "circle", "circle", "square"]}, "legend": null}, "stroke": {"field": "series", "type": "nominal", "scale": {"domain": ["tg", "tc", "tmp", "two", "ta", "Qu", "Pelec"], "range": ["#FF0000", "#0070C0", "#E36C09", "#007A1E", "#000000", "#376092", "#FFFF00"]}, "legend": null}, "fill": {"condition": {"test": "datum.series == 'tc' || datum.series == 'tmp'", "value": "#FFFFFF"}, "field": "series", "type": "nominal", "scale": {"domain": ["tg", "tc", "tmp", "two", "ta", "Qu", "Pelec"], "range": ["transparent", "#0070C0", "#FFFFFF", "transparent", "transparent", "#376092", "#FFFF00"]}, "legend": null}}},
                {"transform": [{"filter": "datum.series == 'Qu'"}], "mark": {"type": "point", "shape": "circle", "size": 95, "strokeWidth": 1, "opacity": 1, "filled": true, "color": "#376092"}, "encoding": {"x": {"field": "xm", "type": "quantitative", "scale": {"domain": [0, 3], "nice": false, "zero": false}, "axis": null}}},
                {"transform": [{"filter": "datum.series == 'Pelec'"}], "mark": {"type": "point", "shape": "square", "size": 150, "strokeWidth": 1, "opacity": 1, "filled": true, "color": "#FFFF00"}, "encoding": {"x": {"field": "xm", "type": "quantitative", "scale": {"domain": [0, 3], "nice": false, "zero": false}, "axis": null}}},
                {"mark": {"type": "text", "align": "left", "baseline": "middle", "fontSize": 23, "dy": 1}, "encoding": {"x": {"field": "xt", "type": "quantitative", "scale": {"domain": [0, 3], "nice": false, "zero": false}, "axis": null}, "text": {"field": "label"}}}
              ]
            },
            {
              "spacing": 5,
              "hconcat": [
                {"width": 1, "height": 1, "view": {"stroke": null}, "data": {"values": []}, "mark": "point"},
                {
                  "width": 380, "height": 345,
                  "view": {"stroke": "#595959", "strokeWidth": 1.2},
                  "encoding": {"x": {"field": "hour", "type": "quantitative", "scale": {"domain": [8, 18], "nice": false, "zero": false}, "axis": {"title": "Time (h:min)", "values": [8, 10, 12, 14, 16, 18], "labelExpr": "datum.value + ':00'", "labelFlush": false, "labelOverlap": false, "tickSize": 6, "labelPadding": 11, "titlePadding": 14}}},
                  "layer": [
                    {
                      "encoding": {"y": {"field": "value", "type": "quantitative", "scale": {"domain": [0, 900], "nice": false, "zero": false}, "axis": {"orient": "right", "title": "Electric or thermal output (W)", "values": [0, 100, 200, 300, 400, 500, 600, 700, 800, 900], "labelFlush": false, "labelOverlap": false, "tickSize": 6, "labelPadding": 18, "titlePadding": 12, "titleAngle": 270, "titleBaseline": "top"}}},
                      "layer": [
                        {"data": {"name": "obs"}, "transform": [{"filter": "datum.mw == '0.02' && (datum.series == 'Qu' || datum.series == 'Pelec')"}], "mark": {"type": "line", "interpolate": "monotone", "strokeWidth": 2.5, "strokeDash": [10, 6]}, "encoding": {"color": {"field": "series", "type": "nominal", "scale": {"domain": ["tg", "tc", "tmp", "two", "ta", "Qu", "Pelec"], "range": ["#FF0000", "#2E86D1", "#E0893F", "#3C9A3C", "#262626", "#376092", "#FFFF00"]}, "legend": null}}},
                        {"data": {"name": "obs"}, "transform": [{"filter": "datum.mw == '0.02' && datum.series == 'Qu'"}], "mark": {"type": "point", "shape": "circle", "size": 95, "strokeWidth": 1, "opacity": 1, "filled": true, "color": "#376092"}},
                        {"data": {"name": "obs"}, "transform": [{"filter": "datum.mw == '0.02' && datum.series == 'Pelec'"}], "mark": {"type": "point", "shape": "square", "size": 150, "strokeWidth": 1, "opacity": 1, "filled": true, "color": "#FFFF00"}}
                      ]
                    },
                    {
                      "encoding": {"y": {"field": "value", "type": "quantitative", "scale": {"domain": [15, 40], "nice": false, "zero": false}, "axis": {"orient": "left", "title": "Temperature (ºC)", "values": [15, 20, 25, 30, 35, 40], "labelFlush": false, "labelOverlap": false, "tickSize": 6, "labelPadding": 16, "titlePadding": 21}}},
                      "layer": [
                        {"data": {"name": "obs"}, "transform": [{"filter": "(datum.mw == '0.02' || datum.mw == 'all') && datum.series != 'Qu' && datum.series != 'Pelec'"}], "mark": {"type": "line", "interpolate": "monotone", "strokeWidth": 1.5, "clip": true}, "encoding": {"color": {"field": "series", "type": "nominal", "scale": {"domain": ["tg", "tc", "tmp", "two", "ta", "Qu", "Pelec"], "range": ["#FF0000", "#2E86D1", "#E0893F", "#3C9A3C", "#262626", "#376092", "#FFFF00"]}, "legend": null}}},
                        {"data": {"name": "obs"}, "transform": [{"filter": "datum.mw == '0.02' && datum.series != 'Qu' && datum.series != 'Pelec'"}], "mark": {"type": "point", "size": 140, "strokeWidth": 2.5, "opacity": 1}, "encoding": {"shape": {"field": "series", "type": "nominal", "scale": {"domain": ["tg", "tc", "tmp", "two", "ta", "Qu", "Pelec"], "range": ["circle", "square", "triangle-up", "M-1,-1L1,1M1,-1L-1,1", "circle", "circle", "square"]}, "legend": null}, "stroke": {"field": "series", "type": "nominal", "scale": {"domain": ["tg", "tc", "tmp", "two", "ta", "Qu", "Pelec"], "range": ["#FF0000", "#0070C0", "#E36C09", "#007A1E", "#000000", "#376092", "#FFFF00"]}, "legend": null}, "fill": {"field": "series", "type": "nominal", "scale": {"domain": ["tg", "tc", "tmp", "two", "ta", "Qu", "Pelec"], "range": ["transparent", "#0070C0", "#FFFFFF", "transparent", "transparent", "#376092", "#FFFF00"]}, "legend": null}}},
                        {"data": {"name": "obs"}, "transform": [{"filter": "datum.mw == '0.02' && datum.series == 'tg' && datum.hour == 18"}], "mark": {"type": "text", "text": "m", "align": "right", "baseline": "alphabetic", "fontSize": 25, "fontWeight": "bold", "dx": -160, "color": "#000000"}, "encoding": {"x": {"field": "hour", "type": "quantitative"}, "y": {"datum": 38, "type": "quantitative"}}},
                        {"data": {"name": "obs"}, "transform": [{"filter": "datum.mw == '0.02' && datum.series == 'tg' && datum.hour == 18"}], "mark": {"type": "text", "text": "w", "align": "right", "baseline": "alphabetic", "fontSize": 15, "fontWeight": "bold", "dx": -147, "dy": 6, "color": "#000000"}, "encoding": {"x": {"field": "hour", "type": "quantitative"}, "y": {"datum": 38, "type": "quantitative"}}},
                        {"data": {"name": "obs"}, "transform": [{"filter": "datum.mw == '0.02' && datum.series == 'tg' && datum.hour == 18"}, {"calculate": "'= ' + datum.mw + ' kg s'", "as": "note"}], "mark": {"type": "text", "align": "right", "baseline": "alphabetic", "fontSize": 24, "fontWeight": "bold", "dx": -17, "color": "#000000"}, "encoding": {"x": {"field": "hour", "type": "quantitative"}, "y": {"datum": 38, "type": "quantitative"}, "text": {"field": "note"}}},
                        {"data": {"name": "obs"}, "transform": [{"filter": "datum.mw == '0.02' && datum.series == 'tg' && datum.hour == 18"}], "mark": {"type": "text", "text": "-1", "align": "right", "baseline": "alphabetic", "fontSize": 13, "fontWeight": "bold", "dx": -7, "dy": -9, "color": "#000000"}, "encoding": {"x": {"field": "hour", "type": "quantitative"}, "y": {"datum": 38, "type": "quantitative"}}}
                      ]
                    }
                  ],
                  "resolve": {"scale": {"y": "independent"}}
                }
              ]
            }
          ]
        }
      ]
    },
    {
      "spacing": 20,
      "hconcat": [
        {
          "spacing": 7,
          "vconcat": [
            {
              "width": 578, "height": 87,
              "view": {"stroke": "#3A3A3A", "strokeWidth": 1.5},
              "data": {"name": "legend"},
              "transform": [
                {"window": [{"op": "row_number", "as": "rn"}]},
                {"calculate": "(datum.rn - 1) % 3", "as": "col"},
                {"calculate": "floor((datum.rn - 1) / 3)", "as": "row"},
                {"calculate": "datum.col + 0.058", "as": "x0"},
                {"calculate": "datum.col + 0.416", "as": "x1"},
                {"calculate": "datum.col + 0.237", "as": "xm"},
                {"calculate": "datum.col + 0.44", "as": "xt"}
              ],
              "encoding": {"y": {"field": "row", "type": "ordinal", "scale": {"type": "point", "padding": 0.5}, "axis": null}},
              "layer": [
                {"transform": [{"filter": "datum.series != 'Qu' && datum.series != 'Pelec'"}], "mark": {"type": "rule", "strokeWidth": 1.5}, "encoding": {"x": {"field": "x0", "type": "quantitative", "scale": {"domain": [0, 3], "nice": false, "zero": false}, "axis": null}, "x2": {"field": "x1"}, "color": {"field": "series", "type": "nominal", "scale": {"domain": ["tg", "tc", "tmp", "two", "ta", "Qu", "Pelec"], "range": ["#FF0000", "#2E86D1", "#E0893F", "#3C9A3C", "#262626", "#376092", "#FFFF00"]}, "legend": null}}},
                {"transform": [{"filter": "datum.series == 'Qu' || datum.series == 'Pelec'"}], "mark": {"type": "rule", "strokeWidth": 2.5, "strokeDash": [9, 7]}, "encoding": {"x": {"field": "x0", "type": "quantitative", "scale": {"domain": [0, 3], "nice": false, "zero": false}, "axis": null}, "x2": {"field": "x1"}, "color": {"field": "series", "type": "nominal", "scale": {"domain": ["tg", "tc", "tmp", "two", "ta", "Qu", "Pelec"], "range": ["#FF0000", "#2E86D1", "#E0893F", "#3C9A3C", "#262626", "#376092", "#FFFF00"]}, "legend": null}}},
                {"transform": [{"filter": "datum.series != 'Qu' && datum.series != 'Pelec' && datum.series != 'ta'"}], "mark": {"type": "point", "size": 140, "strokeWidth": 2.5, "opacity": 1}, "encoding": {"x": {"field": "xm", "type": "quantitative", "scale": {"domain": [0, 3], "nice": false, "zero": false}, "axis": null}, "shape": {"field": "series", "type": "nominal", "scale": {"domain": ["tg", "tc", "tmp", "two", "ta", "Qu", "Pelec"], "range": ["circle", "square", "triangle-up", "M-1,-1L1,1M1,-1L-1,1", "circle", "circle", "square"]}, "legend": null}, "stroke": {"field": "series", "type": "nominal", "scale": {"domain": ["tg", "tc", "tmp", "two", "ta", "Qu", "Pelec"], "range": ["#FF0000", "#0070C0", "#E36C09", "#007A1E", "#000000", "#376092", "#FFFF00"]}, "legend": null}, "fill": {"condition": {"test": "datum.series == 'tc' || datum.series == 'tmp'", "value": "#FFFFFF"}, "field": "series", "type": "nominal", "scale": {"domain": ["tg", "tc", "tmp", "two", "ta", "Qu", "Pelec"], "range": ["transparent", "#0070C0", "#FFFFFF", "transparent", "transparent", "#376092", "#FFFF00"]}, "legend": null}}},
                {"transform": [{"filter": "datum.series == 'Qu'"}], "mark": {"type": "point", "shape": "circle", "size": 95, "strokeWidth": 1, "opacity": 1, "filled": true, "color": "#376092"}, "encoding": {"x": {"field": "xm", "type": "quantitative", "scale": {"domain": [0, 3], "nice": false, "zero": false}, "axis": null}}},
                {"transform": [{"filter": "datum.series == 'Pelec'"}], "mark": {"type": "point", "shape": "square", "size": 150, "strokeWidth": 1, "opacity": 1, "filled": true, "color": "#FFFF00"}, "encoding": {"x": {"field": "xm", "type": "quantitative", "scale": {"domain": [0, 3], "nice": false, "zero": false}, "axis": null}}},
                {"mark": {"type": "text", "align": "left", "baseline": "middle", "fontSize": 23, "dy": 1}, "encoding": {"x": {"field": "xt", "type": "quantitative", "scale": {"domain": [0, 3], "nice": false, "zero": false}, "axis": null}, "text": {"field": "label"}}}
              ]
            },
            {
              "spacing": 5,
              "hconcat": [
                {"width": 1, "height": 1, "view": {"stroke": null}, "data": {"values": []}, "mark": "point"},
                {
                  "width": 380, "height": 345,
                  "view": {"stroke": "#595959", "strokeWidth": 1.2},
                  "encoding": {"x": {"field": "hour", "type": "quantitative", "scale": {"domain": [8, 18], "nice": false, "zero": false}, "axis": {"title": "Time (h:min)", "values": [8, 10, 12, 14, 16, 18], "labelExpr": "datum.value + ':00'", "labelFlush": false, "labelOverlap": false, "tickSize": 6, "labelPadding": 11, "titlePadding": 14}}},
                  "layer": [
                    {
                      "encoding": {"y": {"field": "value", "type": "quantitative", "scale": {"domain": [0, 900], "nice": false, "zero": false}, "axis": {"orient": "right", "title": "Electric or thermal output (W)", "values": [0, 100, 200, 300, 400, 500, 600, 700, 800, 900], "labelFlush": false, "labelOverlap": false, "tickSize": 6, "labelPadding": 18, "titlePadding": 12, "titleAngle": 270, "titleBaseline": "top"}}},
                      "layer": [
                        {"data": {"name": "obs"}, "transform": [{"filter": "datum.mw == '0.04' && (datum.series == 'Qu' || datum.series == 'Pelec')"}], "mark": {"type": "line", "interpolate": "monotone", "strokeWidth": 2.5, "strokeDash": [10, 6]}, "encoding": {"color": {"field": "series", "type": "nominal", "scale": {"domain": ["tg", "tc", "tmp", "two", "ta", "Qu", "Pelec"], "range": ["#FF0000", "#2E86D1", "#E0893F", "#3C9A3C", "#262626", "#376092", "#FFFF00"]}, "legend": null}}},
                        {"data": {"name": "obs"}, "transform": [{"filter": "datum.mw == '0.04' && datum.series == 'Qu'"}], "mark": {"type": "point", "shape": "circle", "size": 95, "strokeWidth": 1, "opacity": 1, "filled": true, "color": "#376092"}},
                        {"data": {"name": "obs"}, "transform": [{"filter": "datum.mw == '0.04' && datum.series == 'Pelec'"}], "mark": {"type": "point", "shape": "square", "size": 150, "strokeWidth": 1, "opacity": 1, "filled": true, "color": "#FFFF00"}}
                      ]
                    },
                    {
                      "encoding": {"y": {"field": "value", "type": "quantitative", "scale": {"domain": [15, 40], "nice": false, "zero": false}, "axis": {"orient": "left", "title": "Temperature (ºC)", "values": [15, 20, 25, 30, 35, 40], "labelFlush": false, "labelOverlap": false, "tickSize": 6, "labelPadding": 16, "titlePadding": 21}}},
                      "layer": [
                        {"data": {"name": "obs"}, "transform": [{"filter": "(datum.mw == '0.04' || datum.mw == 'all') && datum.series != 'Qu' && datum.series != 'Pelec'"}], "mark": {"type": "line", "interpolate": "monotone", "strokeWidth": 1.5, "clip": true}, "encoding": {"color": {"field": "series", "type": "nominal", "scale": {"domain": ["tg", "tc", "tmp", "two", "ta", "Qu", "Pelec"], "range": ["#FF0000", "#2E86D1", "#E0893F", "#3C9A3C", "#262626", "#376092", "#FFFF00"]}, "legend": null}}},
                        {"data": {"name": "obs"}, "transform": [{"filter": "datum.mw == '0.04' && datum.series != 'Qu' && datum.series != 'Pelec'"}], "mark": {"type": "point", "size": 140, "strokeWidth": 2.5, "opacity": 1}, "encoding": {"shape": {"field": "series", "type": "nominal", "scale": {"domain": ["tg", "tc", "tmp", "two", "ta", "Qu", "Pelec"], "range": ["circle", "square", "triangle-up", "M-1,-1L1,1M1,-1L-1,1", "circle", "circle", "square"]}, "legend": null}, "stroke": {"field": "series", "type": "nominal", "scale": {"domain": ["tg", "tc", "tmp", "two", "ta", "Qu", "Pelec"], "range": ["#FF0000", "#0070C0", "#E36C09", "#007A1E", "#000000", "#376092", "#FFFF00"]}, "legend": null}, "fill": {"field": "series", "type": "nominal", "scale": {"domain": ["tg", "tc", "tmp", "two", "ta", "Qu", "Pelec"], "range": ["transparent", "#0070C0", "#FFFFFF", "transparent", "transparent", "#376092", "#FFFF00"]}, "legend": null}}},
                        {"data": {"name": "obs"}, "transform": [{"filter": "datum.mw == '0.04' && datum.series == 'tg' && datum.hour == 18"}], "mark": {"type": "text", "text": "m", "align": "right", "baseline": "alphabetic", "fontSize": 25, "fontWeight": "bold", "dx": -160, "color": "#000000"}, "encoding": {"x": {"field": "hour", "type": "quantitative"}, "y": {"datum": 38, "type": "quantitative"}}},
                        {"data": {"name": "obs"}, "transform": [{"filter": "datum.mw == '0.04' && datum.series == 'tg' && datum.hour == 18"}], "mark": {"type": "text", "text": "w", "align": "right", "baseline": "alphabetic", "fontSize": 15, "fontWeight": "bold", "dx": -147, "dy": 6, "color": "#000000"}, "encoding": {"x": {"field": "hour", "type": "quantitative"}, "y": {"datum": 38, "type": "quantitative"}}},
                        {"data": {"name": "obs"}, "transform": [{"filter": "datum.mw == '0.04' && datum.series == 'tg' && datum.hour == 18"}, {"calculate": "'= ' + datum.mw + ' kg s'", "as": "note"}], "mark": {"type": "text", "align": "right", "baseline": "alphabetic", "fontSize": 24, "fontWeight": "bold", "dx": -17, "color": "#000000"}, "encoding": {"x": {"field": "hour", "type": "quantitative"}, "y": {"datum": 38, "type": "quantitative"}, "text": {"field": "note"}}},
                        {"data": {"name": "obs"}, "transform": [{"filter": "datum.mw == '0.04' && datum.series == 'tg' && datum.hour == 18"}], "mark": {"type": "text", "text": "-1", "align": "right", "baseline": "alphabetic", "fontSize": 13, "fontWeight": "bold", "dx": -7, "dy": -9, "color": "#000000"}, "encoding": {"x": {"field": "hour", "type": "quantitative"}, "y": {"datum": 38, "type": "quantitative"}}}
                      ]
                    }
                  ],
                  "resolve": {"scale": {"y": "independent"}}
                }
              ]
            }
          ]
        },
        {
          "spacing": 7,
          "vconcat": [
            {
              "width": 578, "height": 87,
              "view": {"stroke": "#3A3A3A", "strokeWidth": 1.5},
              "data": {"name": "legend"},
              "transform": [
                {"window": [{"op": "row_number", "as": "rn"}]},
                {"calculate": "(datum.rn - 1) % 3", "as": "col"},
                {"calculate": "floor((datum.rn - 1) / 3)", "as": "row"},
                {"calculate": "datum.col + 0.058", "as": "x0"},
                {"calculate": "datum.col + 0.416", "as": "x1"},
                {"calculate": "datum.col + 0.237", "as": "xm"},
                {"calculate": "datum.col + 0.44", "as": "xt"}
              ],
              "encoding": {"y": {"field": "row", "type": "ordinal", "scale": {"type": "point", "padding": 0.5}, "axis": null}},
              "layer": [
                {"transform": [{"filter": "datum.series != 'Qu' && datum.series != 'Pelec'"}], "mark": {"type": "rule", "strokeWidth": 1.5}, "encoding": {"x": {"field": "x0", "type": "quantitative", "scale": {"domain": [0, 3], "nice": false, "zero": false}, "axis": null}, "x2": {"field": "x1"}, "color": {"field": "series", "type": "nominal", "scale": {"domain": ["tg", "tc", "tmp", "two", "ta", "Qu", "Pelec"], "range": ["#FF0000", "#2E86D1", "#E0893F", "#3C9A3C", "#262626", "#376092", "#FFFF00"]}, "legend": null}}},
                {"transform": [{"filter": "datum.series == 'Qu' || datum.series == 'Pelec'"}], "mark": {"type": "rule", "strokeWidth": 2.5, "strokeDash": [9, 7]}, "encoding": {"x": {"field": "x0", "type": "quantitative", "scale": {"domain": [0, 3], "nice": false, "zero": false}, "axis": null}, "x2": {"field": "x1"}, "color": {"field": "series", "type": "nominal", "scale": {"domain": ["tg", "tc", "tmp", "two", "ta", "Qu", "Pelec"], "range": ["#FF0000", "#2E86D1", "#E0893F", "#3C9A3C", "#262626", "#376092", "#FFFF00"]}, "legend": null}}},
                {"transform": [{"filter": "datum.series != 'Qu' && datum.series != 'Pelec' && datum.series != 'ta'"}], "mark": {"type": "point", "size": 140, "strokeWidth": 2.5, "opacity": 1}, "encoding": {"x": {"field": "xm", "type": "quantitative", "scale": {"domain": [0, 3], "nice": false, "zero": false}, "axis": null}, "shape": {"field": "series", "type": "nominal", "scale": {"domain": ["tg", "tc", "tmp", "two", "ta", "Qu", "Pelec"], "range": ["circle", "square", "triangle-up", "M-1,-1L1,1M1,-1L-1,1", "circle", "circle", "square"]}, "legend": null}, "stroke": {"field": "series", "type": "nominal", "scale": {"domain": ["tg", "tc", "tmp", "two", "ta", "Qu", "Pelec"], "range": ["#FF0000", "#0070C0", "#E36C09", "#007A1E", "#000000", "#376092", "#FFFF00"]}, "legend": null}, "fill": {"condition": {"test": "datum.series == 'tc' || datum.series == 'tmp'", "value": "#FFFFFF"}, "field": "series", "type": "nominal", "scale": {"domain": ["tg", "tc", "tmp", "two", "ta", "Qu", "Pelec"], "range": ["transparent", "#0070C0", "#FFFFFF", "transparent", "transparent", "#376092", "#FFFF00"]}, "legend": null}}},
                {"transform": [{"filter": "datum.series == 'Qu'"}], "mark": {"type": "point", "shape": "circle", "size": 95, "strokeWidth": 1, "opacity": 1, "filled": true, "color": "#376092"}, "encoding": {"x": {"field": "xm", "type": "quantitative", "scale": {"domain": [0, 3], "nice": false, "zero": false}, "axis": null}}},
                {"transform": [{"filter": "datum.series == 'Pelec'"}], "mark": {"type": "point", "shape": "square", "size": 150, "strokeWidth": 1, "opacity": 1, "filled": true, "color": "#FFFF00"}, "encoding": {"x": {"field": "xm", "type": "quantitative", "scale": {"domain": [0, 3], "nice": false, "zero": false}, "axis": null}}},
                {"mark": {"type": "text", "align": "left", "baseline": "middle", "fontSize": 23, "dy": 1}, "encoding": {"x": {"field": "xt", "type": "quantitative", "scale": {"domain": [0, 3], "nice": false, "zero": false}, "axis": null}, "text": {"field": "label"}}}
              ]
            },
            {
              "spacing": 5,
              "hconcat": [
                {"width": 1, "height": 1, "view": {"stroke": null}, "data": {"values": []}, "mark": "point"},
                {
                  "width": 380, "height": 345,
                  "view": {"stroke": "#595959", "strokeWidth": 1.2},
                  "encoding": {"x": {"field": "hour", "type": "quantitative", "scale": {"domain": [8, 18], "nice": false, "zero": false}, "axis": {"title": "Time (h:min)", "values": [8, 10, 12, 14, 16, 18], "labelExpr": "datum.value + ':00'", "labelFlush": false, "labelOverlap": false, "tickSize": 6, "labelPadding": 11, "titlePadding": 14}}},
                  "layer": [
                    {
                      "encoding": {"y": {"field": "value", "type": "quantitative", "scale": {"domain": [0, 900], "nice": false, "zero": false}, "axis": {"orient": "right", "title": "Electric or thermal output (W)", "values": [0, 100, 200, 300, 400, 500, 600, 700, 800, 900], "labelFlush": false, "labelOverlap": false, "tickSize": 6, "labelPadding": 18, "titlePadding": 12, "titleAngle": 270, "titleBaseline": "top"}}},
                      "layer": [
                        {"data": {"name": "obs"}, "transform": [{"filter": "datum.mw == '0.06' && (datum.series == 'Qu' || datum.series == 'Pelec')"}], "mark": {"type": "line", "interpolate": "monotone", "strokeWidth": 2.5, "strokeDash": [10, 6]}, "encoding": {"color": {"field": "series", "type": "nominal", "scale": {"domain": ["tg", "tc", "tmp", "two", "ta", "Qu", "Pelec"], "range": ["#FF0000", "#2E86D1", "#E0893F", "#3C9A3C", "#262626", "#376092", "#FFFF00"]}, "legend": null}}},
                        {"data": {"name": "obs"}, "transform": [{"filter": "datum.mw == '0.06' && datum.series == 'Qu'"}], "mark": {"type": "point", "shape": "circle", "size": 95, "strokeWidth": 1, "opacity": 1, "filled": true, "color": "#376092"}},
                        {"data": {"name": "obs"}, "transform": [{"filter": "datum.mw == '0.06' && datum.series == 'Pelec'"}], "mark": {"type": "point", "shape": "square", "size": 150, "strokeWidth": 1, "opacity": 1, "filled": true, "color": "#FFFF00"}}
                      ]
                    },
                    {
                      "encoding": {"y": {"field": "value", "type": "quantitative", "scale": {"domain": [15, 40], "nice": false, "zero": false}, "axis": {"orient": "left", "title": "Temperature (ºC)", "values": [15, 20, 25, 30, 35, 40], "labelFlush": false, "labelOverlap": false, "tickSize": 6, "labelPadding": 16, "titlePadding": 21}}},
                      "layer": [
                        {"data": {"name": "obs"}, "transform": [{"filter": "(datum.mw == '0.06' || datum.mw == 'all') && datum.series != 'Qu' && datum.series != 'Pelec'"}], "mark": {"type": "line", "interpolate": "monotone", "strokeWidth": 1.5, "clip": true}, "encoding": {"color": {"field": "series", "type": "nominal", "scale": {"domain": ["tg", "tc", "tmp", "two", "ta", "Qu", "Pelec"], "range": ["#FF0000", "#2E86D1", "#E0893F", "#3C9A3C", "#262626", "#376092", "#FFFF00"]}, "legend": null}}},
                        {"data": {"name": "obs"}, "transform": [{"filter": "datum.mw == '0.06' && datum.series != 'Qu' && datum.series != 'Pelec'"}], "mark": {"type": "point", "size": 140, "strokeWidth": 2.5, "opacity": 1}, "encoding": {"shape": {"field": "series", "type": "nominal", "scale": {"domain": ["tg", "tc", "tmp", "two", "ta", "Qu", "Pelec"], "range": ["circle", "square", "triangle-up", "M-1,-1L1,1M1,-1L-1,1", "circle", "circle", "square"]}, "legend": null}, "stroke": {"field": "series", "type": "nominal", "scale": {"domain": ["tg", "tc", "tmp", "two", "ta", "Qu", "Pelec"], "range": ["#FF0000", "#0070C0", "#E36C09", "#007A1E", "#000000", "#376092", "#FFFF00"]}, "legend": null}, "fill": {"field": "series", "type": "nominal", "scale": {"domain": ["tg", "tc", "tmp", "two", "ta", "Qu", "Pelec"], "range": ["transparent", "#0070C0", "#FFFFFF", "transparent", "transparent", "#376092", "#FFFF00"]}, "legend": null}}},
                        {"data": {"name": "obs"}, "transform": [{"filter": "datum.mw == '0.06' && datum.series == 'tg' && datum.hour == 18"}], "mark": {"type": "text", "text": "m", "align": "right", "baseline": "alphabetic", "fontSize": 25, "fontWeight": "bold", "dx": -160, "color": "#000000"}, "encoding": {"x": {"field": "hour", "type": "quantitative"}, "y": {"datum": 38, "type": "quantitative"}}},
                        {"data": {"name": "obs"}, "transform": [{"filter": "datum.mw == '0.06' && datum.series == 'tg' && datum.hour == 18"}], "mark": {"type": "text", "text": "w", "align": "right", "baseline": "alphabetic", "fontSize": 15, "fontWeight": "bold", "dx": -147, "dy": 6, "color": "#000000"}, "encoding": {"x": {"field": "hour", "type": "quantitative"}, "y": {"datum": 38, "type": "quantitative"}}},
                        {"data": {"name": "obs"}, "transform": [{"filter": "datum.mw == '0.06' && datum.series == 'tg' && datum.hour == 18"}, {"calculate": "'= ' + datum.mw + ' kg s'", "as": "note"}], "mark": {"type": "text", "align": "right", "baseline": "alphabetic", "fontSize": 24, "fontWeight": "bold", "dx": -17, "color": "#000000"}, "encoding": {"x": {"field": "hour", "type": "quantitative"}, "y": {"datum": 38, "type": "quantitative"}, "text": {"field": "note"}}},
                        {"data": {"name": "obs"}, "transform": [{"filter": "datum.mw == '0.06' && datum.series == 'tg' && datum.hour == 18"}], "mark": {"type": "text", "text": "-1", "align": "right", "baseline": "alphabetic", "fontSize": 13, "fontWeight": "bold", "dx": -7, "dy": -9, "color": "#000000"}, "encoding": {"x": {"field": "hour", "type": "quantitative"}, "y": {"datum": 38, "type": "quantitative"}}}
                      ]
                    }
                  ],
                  "resolve": {"scale": {"y": "independent"}}
                }
              ]
            }
          ]
        }
      ]
    }
  ]
}
